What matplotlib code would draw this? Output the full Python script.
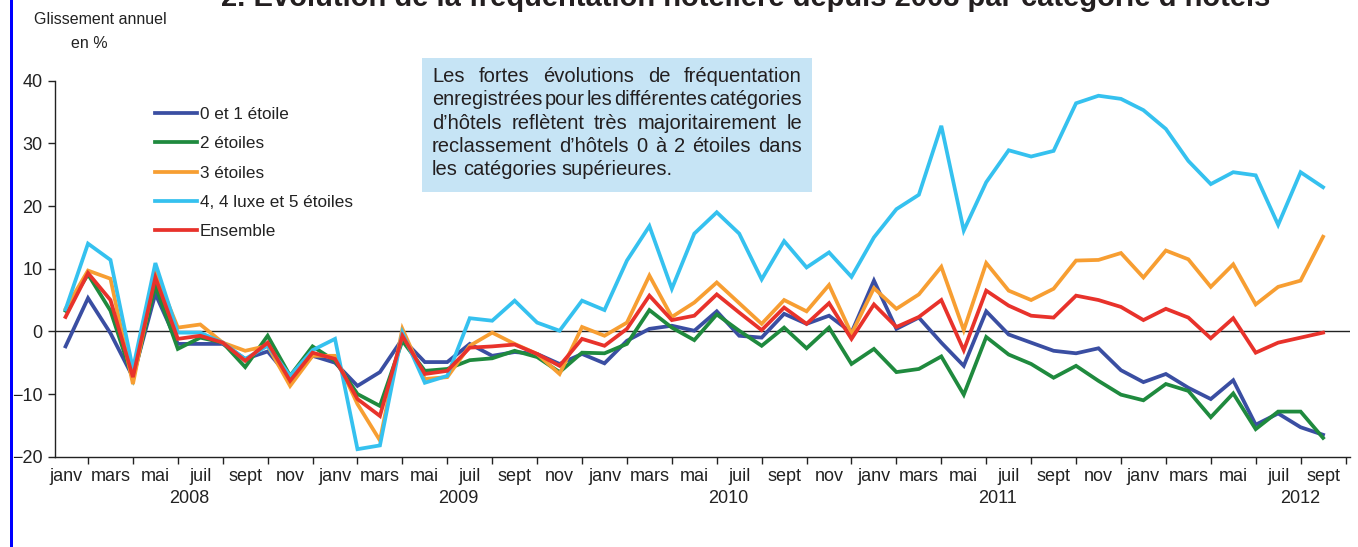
import matplotlib
matplotlib.use('Agg')
import matplotlib.pyplot as plt
from matplotlib.patches import Rectangle

# monthly data, janv 2008 -> sept 2012 (57 months), annual change in %
mois = ['janv', 'mars', 'mai', 'juil', 'sept', 'nov']
annees = ['2008', '2009', '2010', '2011', '2012']
annee_pos = [5.5, 17.5, 29.5, 41.5, 55]

etoile_0_1 = [-2.4, 5.3, -0.3, -7.3, 6.0, -2.0, -2.0, -2.0, -4.4, -3.2, -7.5, -3.9,
              -5.0, -8.7, -6.5, -1.2, -4.9, -4.9, -2.0, -3.9, -3.3, -3.6, -5.2, -3.6,
              -5.1, -1.5, 0.4, 0.9, 0.1, 3.2, -0.7, -1.0, 2.8, 1.2, 2.5, -0.2,
              8.1, 0.4, 2.2, -1.8, -5.5, 3.2, -0.5, -1.8, -3.1, -3.5, -2.7, -6.2,
              -8.1, -6.8, -9.0, -10.8, -7.8, -14.9, -13.1, -15.3, -16.5]
etoiles_2 = [3.3, 9.1, 3.3, -7.6, 7.3, -2.8, -1.0, -1.8, -5.7, -0.7, -7.1, -2.4,
             -4.7, -10.0, -11.9, -1.5, -6.3, -6.0, -4.6, -4.3, -3.1, -4.1, -6.5, -3.4,
             -3.5, -2.0, 3.4, 0.6, -1.4, 2.7, 0.1, -2.3, 0.6, -2.7, 0.6, -5.2,
             -2.8, -6.5, -6.0, -4.0, -10.1, -0.9, -3.7, -5.2, -7.4, -5.5, -7.9, -10.1,
             -11.0, -8.4, -9.5, -13.7, -9.9, -15.6, -12.8, -12.8, -17.0]
etoiles_3 = [3.6, 9.7, 8.4, -8.4, 9.4, 0.6, 1.1, -1.8, -3.1, -2.3, -8.7, -3.9,
             -3.9, -11.6, -17.4, 0.4, -7.6, -7.3, -2.3, -0.2, -2.0, -3.6, -6.8, 0.7,
             -0.7, 1.4, 8.9, 2.3, 4.6, 7.8, 4.5, 1.2, 5.0, 3.2, 7.4, -0.4,
             6.9, 3.6, 5.9, 10.3, 0.2, 10.9, 6.5, 5.0, 6.8, 11.3, 11.4, 12.5,
             8.6, 12.9, 11.5, 7.1, 10.7, 4.3, 7.1, 8.1, 15.1]
etoiles_4_5 = [3.5, 14.0, 11.4, -6.0, 10.9, -0.2, -0.2, -1.8, -4.4, -2.3, -7.1, -3.0,
               -1.2, -18.8, -18.2, -0.2, -8.2, -7.1, 2.1, 1.7, 4.9, 1.4, 0.1, 4.9,
               3.4, 11.3, 16.8, 6.8, 15.6, 19.0, 15.6, 8.3, 14.4, 10.2, 12.6, 8.7,
               15.0, 19.5, 21.8, 32.8, 16.1, 23.8, 28.9, 27.9, 28.8, 36.4, 37.6, 37.1,
               35.3, 32.3, 27.2, 23.5, 25.4, 24.9, 17.0, 25.4, 23.0]
ensemble = [2.3, 9.3, 5.0, -7.3, 8.6, -1.2, -0.7, -1.8, -4.7, -1.8, -7.9, -3.4,
            -4.4, -10.8, -13.5, -0.7, -6.8, -6.3, -2.6, -2.4, -2.1, -3.6, -5.5, -1.2,
            -2.3, 0.4, 5.7, 1.8, 2.5, 5.9, 3.0, 0.2, 3.8, 1.2, 4.5, -1.2,
            4.3, 0.7, 2.3, 5.0, -3.0, 6.5, 4.1, 2.5, 2.2, 5.7, 5.0, 3.9,
            1.8, 3.6, 2.2, -1.1, 2.1, -3.4, -1.8, -1.0, -0.2]

series = [
    ('0 et 1 étoile', etoile_0_1, '#3a4ea2'),
    ('2 étoiles', etoiles_2, '#1f8a3e'),
    ('3 étoiles', etoiles_3, '#f79e32'),
    ('4, 4 luxe et 5 étoiles', etoiles_4_5, '#35c1ef'),
    ('Ensemble', ensemble, '#e8322b'),
]

W, H = 1358, 547
plt.rcParams['font.family'] = ['Liberation Sans', 'DejaVu Sans']

fig = plt.figure(figsize=(W / 100, H / 100), dpi=100)
ax = fig.add_axes([55 / W, (H - 456.7) / H, (1350 - 55) / W, (456.7 - 80.7) / H])

x = list(range(len(ensemble)))
for label, vals, col in series:
    ax.plot(x, vals, color=col, lw=2.7, label=label, solid_joinstyle='miter')

ax.axhline(0, color='#222222', lw=1.0, zorder=1)
ax.set_xlim(-0.47, 57.2)
ax.set_ylim(-20, 40)

for s in ['top', 'right']:
    ax.spines[s].set_visible(False)
for s in ['left', 'bottom']:
    ax.spines[s].set_color('#222222')
    ax.spines[s].set_linewidth(1.0)

ax.set_yticks(range(-20, 41, 10))
ax.tick_params(axis='y', length=5, width=1, colors='#222222', pad=4, labelsize=13)
ax.set_xticks(range(1, 58, 2))
ax.set_xticklabels([])
ax.tick_params(axis='x', which='major', length=5, width=1, colors='#222222')
ax.set_xticks(range(0, 57, 2), minor=True)
ax.set_xticklabels([mois[k % 6] for k in range(29)], minor=True, fontsize=13)
ax.tick_params(axis='x', which='minor', length=0, pad=8, labelcolor='#222222')

for yr, p in zip(annees, annee_pos):
    ax.text(p, -0.112, yr, transform=ax.get_xaxis_transform(), ha='center', va='center',
            fontsize=13, color='#222222')

leg = ax.legend(loc='upper left', bbox_to_anchor=(100 / 1295, 1 - 26.5 / 376), frameon=False,
                fontsize=12.3, handlelength=2.45, handletextpad=0.18, labelspacing=0.83,
                borderaxespad=0, borderpad=0)
for t in leg.get_texts():
    t.set_color('#222222')

# texts around the chart
fig.text(100 / W, 1 - 20 / H, 'Glissement annuel', ha='center', va='center', fontsize=11.5, color='#222222')
fig.text(89 / W, 1 - 43 / H, 'en %', ha='center', va='center', fontsize=11.5, color='#222222')
fig.patches.append(Rectangle((9.5 / W, 0), 4 / W, 1, transform=fig.transFigure,
                             color='#0000ff', lw=0))

renderer = fig.canvas.get_renderer()
titre = fig.text(746 / W, 1 - 6 / H, '2. Évolution de la fréquentation hôtelière depuis 2008 par catégorie d\u2019hôtels',
                 ha='center', va='baseline', fontsize=20, fontweight='bold', color='#231f20')
tw = titre.get_window_extent(renderer).width
titre.set_fontsize(20 * 1048 / tw)

# boxed comment, justified
fig.patches.append(Rectangle((422 / W, 1 - 192 / H), 390 / W, 134 / H, transform=fig.transFigure,
                             color='#c6e4f5', lw=0, zorder=0))
lignes = ['Les fortes évolutions de fréquentation',
          'enregistrées pour les différentes catégories',
          'd\u2019hôtels reflètent très majoritairement le',
          'reclassement d\u2019hôtels 0 à 2 étoiles dans',
          'les catégories supérieures.']
x0, x1 = 432, 802
for k, ligne in enumerate(lignes):
    yb = 1 - (82 + 23.3 * k) / H
    mots = ligne.split()
    fs = 14.5
    txts = [fig.text(0, yb, m, ha='left', va='baseline', fontsize=fs, color='#231f20') for m in mots]
    larg = [t.get_window_extent(renderer).width for t in txts]
    if k < len(lignes) - 1:
        mini = 2.0 * (len(mots) - 1)
        if sum(larg) + mini > x1 - x0:
            f = (x1 - x0 - mini) / sum(larg)
            for t in txts:
                t.set_fontsize(fs * f)
            larg = [t.get_window_extent(renderer).width for t in txts]
        gap = (x1 - x0 - sum(larg)) / (len(mots) - 1)
    else:
        gap = 5.0
    xc = x0
    for t, w in zip(txts, larg):
        t.set_x(xc / W)
        xc += w + gap

fig.savefig('out.png', dpi=100)
